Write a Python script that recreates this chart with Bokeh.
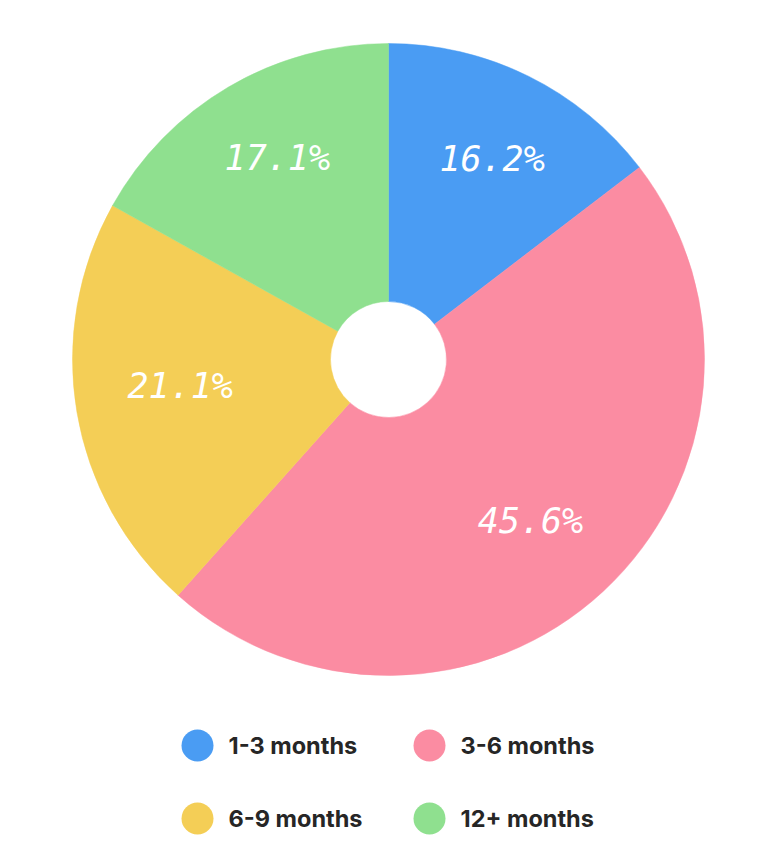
import numpy as np
from bokeh.plotting import figure
from bokeh.models import Range1d, ColumnDataSource
from bokeh.core.properties import value
from bokeh.embed import file_html
from bokeh.resources import INLINE

categories = ["1-3 months", "3-6 months", "6-9 months", "12+ months"]
# slice sizes as drawn in the picture (% of circle)
slice_shares = [14.6, 47.0, 21.5, 16.9]
# percentage labels as printed on the slices
slice_labels = ["16.2%", "45.6%", "21.1%", "17.1%"]
colors = ["#4a9cf3", "#fb8ca2", "#f4ce56", "#8fe08f"]

# layout
W, H = 776, 867
cx, cy = 388, H - 359
R_OUT, R_IN = 316, 58
label_radius = [226, 215, 210, 230]
label_angle_shift_deg = [-1.0, -1.5, -2.3, -1.5]

vals = np.array(slice_shares, dtype=float)
frac = vals / vals.sum()
cum = np.concatenate([[0], np.cumsum(frac)])
start = np.pi / 2 - cum[:-1] * 2 * np.pi
end = np.pi / 2 - cum[1:] * 2 * np.pi
mid = (start + end) / 2 + np.radians(label_angle_shift_deg)
lr = np.array(label_radius, dtype=float)

src = ColumnDataSource(dict(
    start=start, end=end, color=colors,
    lx=cx + lr * np.cos(mid), ly=cy + lr * np.sin(mid),
    lab=slice_labels,
))

p = figure(width=W, height=H, x_range=Range1d(0, W), y_range=Range1d(0, H),
           output_backend="svg", toolbar_location=None, min_border=0)
p.axis.visible = False
p.grid.visible = False
p.outline_line_color = None
p.background_fill_color = "white"
p.border_fill_color = "white"

p.annular_wedge(x=cx, y=cy, inner_radius=R_IN, outer_radius=R_OUT,
                start_angle="start", end_angle="end", direction="clock",
                fill_color="color", line_color="color", line_width=0.5, source=src)

p.text(x="lx", y="ly", text="lab", source=src, text_color="white",
       text_font=value("DejaVu Sans Mono"), text_font_style="italic",
       text_font_size="35px", text_align="center", text_baseline="middle")

# legend
leg_x = [197, 429, 197, 429]
leg_y = [H - 745, H - 745, H - 818, H - 818]
lsrc = ColumnDataSource(dict(x=leg_x, y=leg_y, color=colors, name=categories,
                             tx=[x + 31 for x in leg_x]))
p.scatter(x="x", y="y", size=32, marker="circle", fill_color="color",
          line_color=None, source=lsrc)
p.text(x="tx", y="y", text="name", source=lsrc, text_color="#262626",
       text_font=value("Inter"), text_font_style="bold", text_font_size="23.5px",
       text_align="left", text_baseline="middle")

open("out.html", "w").write(file_html(p, INLINE))
